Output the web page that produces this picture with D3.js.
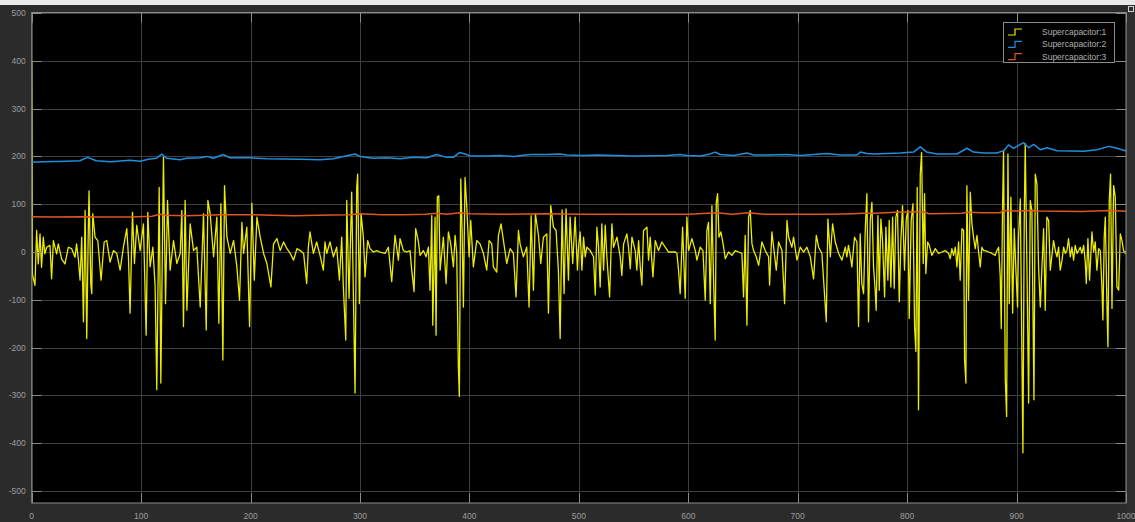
<!DOCTYPE html>
<html>
<head>
<meta charset="utf-8">
<script src="https://cdn.jsdelivr.net/npm/d3@7"></script>
<style>
  html, body { margin: 0; padding: 0; background: #2b2b2b; overflow: hidden; }
  svg { display: block; }
  text { font-family: "Liberation Sans", Arial, sans-serif; }
</style>
</head>
<body>
<svg id="chart" width="1135" height="522"></svg>
<script>
// ---- data -------------------------------------------------------------
const seriesNames  = ["Supercapacitor:1", "Supercapacitor:2", "Supercapacitor:3"];
const seriesColors = ["#ecec00", "#1e8fdc", "#e0561f"];
const xTicks = [0, 100, 200, 300, 400, 500, 600, 700, 800, 900, 1000];
const yTicks = [-500, -400, -300, -200, -100, 0, 100, 200, 300, 400, 500];

// [time, value] samples
const supercap1 = [
  [0,400],[0.6,-46],[3,-70],[4.5,45],[6,-25],[7.6,38],[9,-32],[10.6,31],[12,-4],[13.7,10],
  [16.7,14],[18.2,-56],[19.8,24],[22.8,-4],[24.3,17],[27.4,-15],[30.4,-25],[33.5,10],[36.5,7],[39.6,-11],
  [41,17],[42.7,-17],[44.2,-59],[45.7,31],[47.3,-146],[48.8,87],[50.3,-181],[51.8,59],[52.4,128],[54,-66],
  [54.9,-87],[55.8,80],[57.9,31],[60.4,24],[63.4,-59],[66.2,21],[68.6,24],[71.6,-21],[74.7,3],[77.7,-3],
  [80.8,-38],[83.8,10],[86.9,49],[88.4,-10],[89.9,-128],[92.1,83],[93.9,-24],[96,56],[99.1,3],[102.1,59],
  [104.6,-174],[106.1,83],[108.2,-31],[110.7,10],[112.8,-73],[114.3,-288],[116.5,135],[118,-274],[120.4,198],[122.3,-108],
  [124.1,108],[126.5,-38],[129.6,24],[132.6,-24],[135.7,-3],[137.2,87],[138.7,-156],[140.2,108],[141.8,-122],[144.8,59],
  [147.9,3],[150.9,10],[154,-115],[157,80],[159.5,-163],[161,108],[163.1,80],[166.2,-10],[169.2,73],[171,-149],
  [172.9,101],[174.7,-226],[176.2,139],[178.4,31],[181.4,-3],[184.5,24],[187.5,-31],[189.9,-101],[192.1,62],[193.6,-3],
  [196.6,52],[199.1,-156],[201.2,102],[203.4,-59],[205.8,73],[208.8,31],[211.9,-3],[214.9,-24],[218.6,-73],[221,17],
  [224.1,28],[227.1,3],[230.2,21],[233.2,7],[236.3,-3],[239.3,-17],[242.4,7],[245.4,3],[248.5,-3],[251.3,-66],
  [252.8,10],[254.3,42],[257.4,-3],[260.4,21],[263.5,-7],[266.5,-38],[268,21],[269.6,-3],[272.6,21],[275.7,-10],
  [278.7,10],[281.2,-59],[283.3,31],[284.8,-73],[287,-184],[287.9,108],[290,-97],[292.4,125],[294,-94],[295.5,-295],
  [297,135],[297.9,163],[299.4,-108],[301,80],[303.1,31],[304.6,-52],[307,24],[309.2,7],[312.2,0],[315.3,3],
  [318.3,0],[322.9,-3],[325.9,10],[329,-62],[332,35],[335.1,-17],[336.6,28],[339.7,3],[342.7,0],[345.7,3],
  [347.3,-38],[349.4,-83],[350.9,49],[353.4,21],[354.9,-7],[357.9,3],[360.4,-10],[362.5,10],[364,-80],[365.6,76],
  [366.5,-153],[368.6,73],[369.5,-174],[370.7,115],[372,118],[373.2,-38],[376.2,31],[378.7,-66],[380.8,42],[382.9,17],
  [385.4,-31],[386.9,35],[388.4,-3],[389.9,-240],[390.8,-302],[392.1,153],[393.3,45],[394.5,-115],[396,156],[397.6,94],
  [399.7,-10],[401.2,66],[403.6,-31],[406.7,24],[409.7,17],[412.8,-3],[415.8,-38],[418,24],[420.4,17],[421.9,-31],
  [425,-42],[426.5,35],[428.9,59],[431.1,24],[434.1,-24],[437.2,7],[440.2,-3],[442.6,-94],[444.8,45],[446.3,17],
  [449.3,-10],[452.4,10],[454.5,-115],[456.4,76],[458.5,-80],[460.3,80],[463.1,35],[465.2,-24],[467.6,31],[470.7,38],
  [472.2,-128],[474.3,97],[476.8,52],[479.2,45],[481.3,-38],[482.9,-181],[484.7,88],[486.5,-87],[488.3,90],[490.5,-59],
  [492,73],[494.4,-24],[496.6,73],[498.7,-38],[499.7,10],[501.2,42],[502.8,-38],[504.3,31],[505.8,-10],[507.3,10],
  [510.4,3],[513.4,-10],[515,-90],[516.5,52],[518,10],[519.5,-73],[521,59],[522.6,-38],[524.1,56],[525.6,-10],
  [528.1,-94],[530.2,59],[531.7,10],[534.8,31],[537.8,-10],[539.3,-49],[540.9,17],[543.9,38],[545.4,10],[547,-35],
  [548.5,31],[551.5,3],[553,-38],[554.6,24],[556.1,-31],[557.6,-69],[559.1,45],[562.2,52],[563.7,-17],[565.2,31],
  [567.7,-52],[569.8,24],[572.8,3],[575.9,21],[578.9,10],[582,0],[585,0],[588.1,0],[589.6,-3],[591.1,-38],
  [592.6,-87],[594.8,52],[597.2,-97],[598.7,73],[600.3,3],[603.3,28],[606.4,3],[607.9,-17],[610.9,10],[613.4,3],
  [615.5,-101],[617,45],[618.5,62],[620.1,-108],[621.6,97],[623.1,-59],[624.6,-184],[625.6,104],[626.8,122],[628,31],
  [629.8,42],[632.3,10],[633.8,-14],[636.8,0],[639.9,-7],[642.9,3],[646,0],[649,-3],[650.5,-94],[652,35],
  [653.6,-153],[655.1,73],[656.6,87],[658.2,17],[659.7,3],[662.1,-10],[664.3,-28],[667.3,21],[670.3,3],[673.4,-10],
  [674.3,-69],[676.4,42],[678,10],[680.4,-38],[682.5,21],[685.6,3],[688,-108],[690.2,66],[691.7,31],[694.7,10],
  [696.2,31],[699.3,-17],[702.3,10],[705.4,0],[708.4,10],[711.5,-10],[714.5,-56],[717,35],[719.1,10],[722.1,-3],
  [726.1,-146],[727.6,69],[729.8,-10],[731.9,59],[734.3,21],[737.4,-3],[740.4,-17],[743.5,10],[744.9,-10],[746.4,14],
  [748,-7],[749.5,-31],[751.9,31],[754.1,21],[755.6,-156],[757.1,38],[758.6,-66],[760.2,-87],[761.7,45],[763.2,122],
  [764.7,-146],[766.3,66],[767.8,104],[769.3,-31],[770.8,-80],[771.7,-122],[773.3,76],[774.5,-80],[776,69],[777.5,24],
  [779.4,-94],[780.6,52],[782.4,-59],[783.6,66],[785.1,-73],[786.7,73],[788.2,-76],[789.7,73],[791.2,87],[792.8,-104],
  [794.3,24],[795.8,97],[797.6,-38],[799.2,69],[800.7,87],[801.9,-139],[803.7,66],[805.3,101],[806.8,-156],[808,-208],
  [809.2,135],[810.4,-330],[812,163],[813.2,208],[814.7,-24],[815.9,122],[817.1,-45],[818.7,21],[820.2,14],[822.6,-7],
  [825.7,7],[828.7,-3],[831.8,0],[834.8,3],[837.9,-3],[839.4,-14],[840.9,7],[842.4,-7],[844,10],[845.5,-31],
  [847,21],[848.5,-59],[850.1,49],[851.6,45],[852.5,-226],[853.7,-274],[854.6,139],[856.1,-101],[857.7,125],[859.2,59],
  [860.7,31],[862.2,7],[863.8,35],[865.3,0],[866.8,-31],[868.3,10],[869.8,3],[871.4,3],[874.4,0],[877.5,-3],
  [880.5,-7],[882,3],[883.6,10],[885.1,-52],[886,-160],[887.2,97],[888.1,212],[889.7,-267],[890.9,-344],[892.1,205],
  [893.3,-108],[894.8,115],[896.4,-128],[897.9,49],[899.4,-38],[900.9,-115],[901.8,31],[903.4,111],[904.9,-219],[905.8,-420],
  [907,66],[907.9,226],[909.5,-35],[911,-316],[912.5,108],[914,87],[915.9,-309],[917.1,163],[918.6,142],[920.1,-31],
  [921.7,-115],[923.2,-31],[924.7,49],[926.2,-122],[927.7,73],[929.3,66],[930.8,-38],[932.3,-7],[933.8,24],[935.4,3],
  [936.9,-10],[938.4,10],[939.9,-38],[941.5,-17],[943,10],[944.5,-3],[946,3],[947.5,28],[949.1,-10],[950.6,10],
  [952.1,-17],[953.6,14],[955.2,-3],[956.7,3],[958.2,10],[959.7,-3],[961.3,14],[962.8,-21],[963.7,-66],[965.2,28],
  [966.7,-59],[968.9,42],[970.4,0],[971.9,21],[973.4,-38],[975,7],[976.5,3],[978,-73],[978.9,-142],[980.1,31],
  [981.1,73],[982.6,-115],[983.5,-198],[984.7,108],[985.9,163],[987.2,-118],[988.7,139],[990.2,115],[991.7,-73],[993.3,-80],
  [994.8,38],[996.3,24],[997.8,3],[999.3,-3],[1000,2]
];

const supercap2 = [
  [0,188],[10,189],[32,190],[44,191],[51,198],[59,191],[72,189],[90,192],[99,190],[106.6,194],
  [114,196],[118.8,205],[123.4,196],[135.5,193],[141.6,196],[153.8,197],[160,200],[166,196],[175,204],[181,197],
  [199.5,197],[214.8,195],[245,194],[263.5,193],[275.7,195],[284.8,200],[295.5,205],[300,200],[312.2,196],[324.4,197],
  [336.6,195],[348.8,198],[361,197],[370.1,204],[379.3,198],[385.4,198],[390.8,208],[396,205],[400.6,201],[415.8,201],
  [428,202],[440.2,200],[455.4,204],[470.7,204],[482.9,205],[489,203],[504.2,202],[516.4,203],[550,201],[580.4,202],
  [592.6,204],[598.7,202],[611,201],[620,205],[624.6,209],[629.2,204],[641.4,202],[653.6,207],[659.7,203],[671.8,203],
  [690.1,204],[702.3,202],[726.7,206],[738.9,203],[754.1,203],[757.2,209],[763.3,206],[769.3,205],[781.5,206],[793.7,207],
  [805.9,209],[812,220],[818,209],[827.2,205],[845.5,205],[854.6,217],[860.7,209],[869.9,207],[882,207],[888.2,212],
  [892.7,224],[897.3,217],[906.4,229],[911,218],[915.6,225],[921.7,214],[927.8,218],[936.9,212],[961.3,211],[973.5,214],
  [984.1,221],[990.2,218],[999.4,212],[1000,212]
];

const supercap3 = [
  [0,74],[20,73],[45,74],[60,73],[90,73],[110,75],[117,79],[122,77],[140,76],[160,77],
  [172,78],[200,78],[220,77],[240,76],[260,77],[290,78],[300,80],[320,78],[340,78],[360,79],
  [370,81],[380,79],[391,82],[400,80],[430,79],[470,80],[500,79],[550,79],[600,79],[626,82],
  [640,79],[655,82],[670,79],[700,79],[730,79],[750,80],[760,81],[770,81],[790,83],[810,84],
  [815,84],[820,80],[850,81],[855,83],[870,82],[885,82],[888,87],[900,86],[915,87],[920,86],
  [960,85],[985,87],[995,86],[1000,85]
];

// ---- layout -----------------------------------------------------------
const W = 1135, H = 522;
const plot = { left: 31.7, right: 1126, top: 12.5, bottom: 503 };

const svg = d3.select("#chart");

const x = d3.scaleLinear().domain([0, 1000]).range([plot.left, plot.right]);
const y = d3.scaleLinear().domain([-525, 501]).range([plot.bottom, plot.top]);

// window chrome
svg.append("rect").attr("x", 0).attr("y", 0).attr("width", W).attr("height", H).attr("fill", "#2b2b2b");
svg.append("rect").attr("x", 0).attr("y", 0).attr("width", W).attr("height", 5).attr("fill", "#e9e9e9");
svg.append("rect").attr("x", plot.right + 1).attr("y", 5).attr("width", W - plot.right - 1).attr("height", H - 5).attr("fill", "#2f2f2f");
svg.append("rect").attr("x", 1128.5).attr("y", 6.5).attr("width", 5).attr("height", 5)
  .attr("fill", "none").attr("stroke", "#d0d0d0").attr("stroke-width", 1);

// axes background
svg.append("rect")
  .attr("x", plot.left).attr("y", plot.top)
  .attr("width", plot.right - plot.left).attr("height", plot.bottom - plot.top)
  .attr("fill", "#000");

// grid
const grid = svg.append("g").attr("stroke", "#3e3e3e").attr("stroke-width", 1);
grid.selectAll("line.h").data(yTicks).join("line")
  .attr("x1", plot.left).attr("x2", plot.right)
  .attr("y1", d => Math.round(y(d)) + 0.5).attr("y2", d => Math.round(y(d)) + 0.5);
grid.selectAll("line.v").data(xTicks).join("line")
  .attr("y1", plot.top).attr("y2", plot.bottom)
  .attr("x1", d => Math.round(x(d)) + 0.5).attr("x2", d => Math.round(x(d)) + 0.5);

// series
svg.append("clipPath").attr("id", "plotClip").append("rect")
  .attr("x", plot.left).attr("y", plot.top)
  .attr("width", plot.right - plot.left).attr("height", plot.bottom - plot.top);

const line = d3.line().x(d => x(d[0])).y(d => y(d[1])).curve(d3.curveLinear);
const seriesData = [supercap1, supercap2, supercap3];
const lines = svg.append("g").attr("clip-path", "url(#plotClip)");
[0, 1, 2].forEach(i => {
  lines.append("path")
    .datum(seriesData[i])
    .attr("fill", "none")
    .attr("stroke", seriesColors[i])
    .attr("stroke-width", i === 0 ? 1.3 : 1.5)
    .attr("stroke-linejoin", "round")
    .attr("d", line);
});

// axis frame
svg.append("rect")
  .attr("x", plot.left).attr("y", plot.top)
  .attr("width", plot.right - plot.left).attr("height", plot.bottom - plot.top)
  .attr("fill", "none").attr("stroke", "#8a8a8a").attr("stroke-width", 1);

// inner tick marks
const tk = svg.append("g").attr("stroke", "#8a8a8a").attr("stroke-width", 1);
yTicks.forEach(d => {
  const yy = Math.round(y(d)) + 0.5;
  tk.append("line").attr("x1", plot.left).attr("x2", plot.left + 10).attr("y1", yy).attr("y2", yy);
  tk.append("line").attr("x1", plot.right - 10).attr("x2", plot.right).attr("y1", yy).attr("y2", yy);
});
xTicks.forEach(d => {
  const xx = Math.round(x(d)) + 0.5;
  tk.append("line").attr("y1", plot.bottom).attr("y2", plot.bottom - 10).attr("x1", xx).attr("x2", xx);
  tk.append("line").attr("y1", plot.top).attr("y2", plot.top + 10).attr("x1", xx).attr("x2", xx);
});

// tick labels
svg.append("g").selectAll("text").data(yTicks).join("text")
  .attr("x", plot.left - 6).attr("y", d => y(d) + 3)
  .attr("text-anchor", "end").attr("font-size", 8.5).attr("fill", "#9c9c9c")
  .text(d => d);
svg.append("g").selectAll("text").data(xTicks).join("text")
  .attr("x", d => x(d)).attr("y", 519)
  .attr("text-anchor", "middle").attr("font-size", 8.5).attr("fill", "#9c9c9c")
  .text(d => d);

// legend
const lg = svg.append("g");
lg.append("rect")
  .attr("x", 1003.5).attr("y", 22.5).attr("width", 111).attr("height", 40)
  .attr("fill", "#000").attr("stroke", "#8a8a8a").attr("stroke-width", 1);
seriesNames.forEach((name, i) => {
  const cy = 32 + i * 12.3;
  lg.append("path")
    .attr("d", `M1008,${cy + 3}H1015V${cy - 3}H1022`)
    .attr("fill", "none").attr("stroke", seriesColors[i]).attr("stroke-width", 1.2);
  lg.append("text")
    .attr("x", 1042).attr("y", cy + 3)
    .attr("font-size", 8.5).attr("fill", "#b0b0b0")
    .text(name);
});
</script>
</body>
</html>
